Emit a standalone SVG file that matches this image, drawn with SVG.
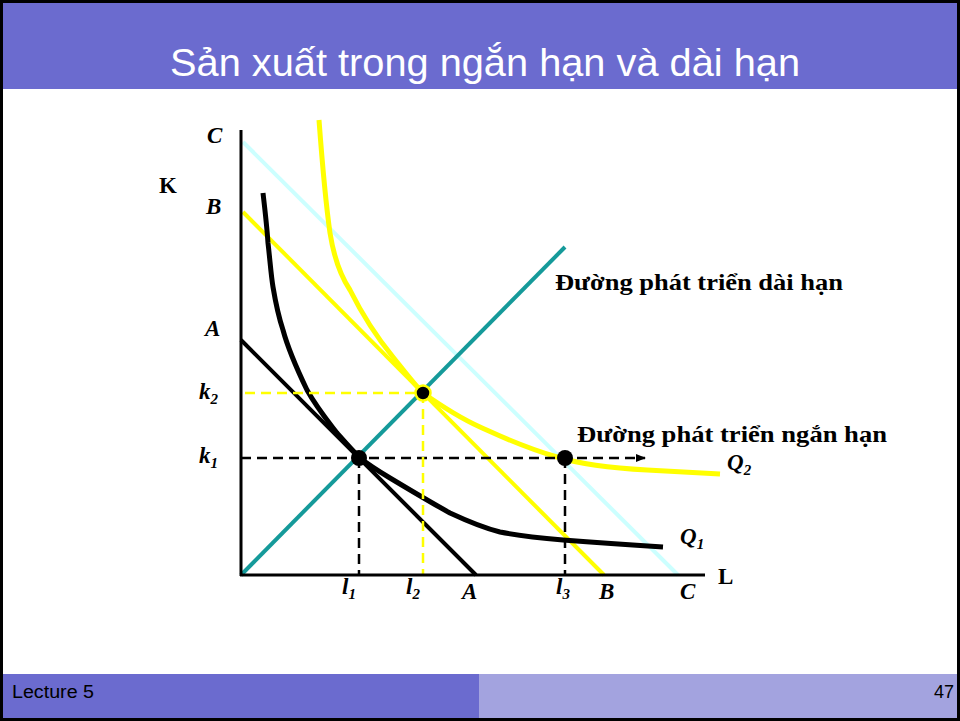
<svg xmlns="http://www.w3.org/2000/svg" width="960" height="721" viewBox="0 0 960 721">
<defs>
<style>
.ax{stroke:#000;stroke-width:3;fill:none}
.lbl{font-family:"Liberation Serif",serif;font-style:italic;font-weight:bold;font-size:23px;fill:#000}
.sub{font-size:15px}
.bl{font-family:"Liberation Serif",serif;font-weight:bold;font-size:23px;fill:#000}
.dash{stroke:#000;stroke-width:2.5;stroke-dasharray:10,6;fill:none}
.ydash{stroke:#FFFF00;stroke-width:2.5;stroke-dasharray:10,6;fill:none}
.ft{font-family:"Liberation Sans",Arial,sans-serif;font-size:18px;fill:#000}
</style>
<marker id="arr" markerWidth="10" markerHeight="8" refX="9" refY="4" orient="auto" markerUnits="userSpaceOnUse">
<path d="M0,0 L10,4 L0,8 Z" fill="#000"/>
</marker>
</defs>
<rect x="1.5" y="1.5" width="957" height="718" fill="#fff" stroke="#000" stroke-width="3"/>
<g id="header">
<rect x="3" y="3" width="954" height="86" fill="#6B6BCF"/>
<text x="170" y="76" textLength="630" lengthAdjust="spacingAndGlyphs" font-family="Liberation Sans, Arial, sans-serif" font-size="39" fill="#fff">Sản xuất trong ngắn hạn và dài hạn</text>
</g>
<g id="footer">
<rect x="3" y="674" width="476" height="44" fill="#6B6BCF"/>
<rect x="479" y="674" width="478" height="44" fill="#A3A3DF"/>
<text class="ft" x="12" y="698" textLength="82" lengthAdjust="spacingAndGlyphs">Lecture 5</text>
<text class="ft" x="954" y="698" text-anchor="end">47</text>
</g>
<g id="lines">
<line x1="243" y1="142" x2="678" y2="575" stroke="#CCFFFF" stroke-width="4"/>
<line x1="243" y1="212" x2="604" y2="575" stroke="#FFFF00" stroke-width="4"/>
<line x1="241" y1="340" x2="476" y2="575" stroke="#000" stroke-width="4"/>
<line x1="241" y1="575" x2="565" y2="247" stroke="#159A9A" stroke-width="4"/>
<path d="M319,120 C322,160 326,205 330,233 C334,258 340,275 350,290 C360,310 375,335 393,357 C405,372 415,385 423,393 C440,405 460,418 480,427 C500,436 520,446 557,457 C580,464 610,468 647,470 C680,472 700,473 720,474" fill="none" stroke="#FFFF00" stroke-width="5"/>
<path d="M263,193 C265,210 267,228 268,243 C270,260 271,275 273,287 C276,305 279,318 283,330 C287,345 295,365 307,390 C317,408 327,420 337,433 C345,442 352,450 360,458 C370,466 380,472 390,478 C410,490 430,502 450,513 C465,520 480,527 500,532 C520,536 540,538 563,540 C600,543 630,545 663,547" fill="none" stroke="#000" stroke-width="5"/>
</g>
<g id="connectors">
<line class="dash" x1="241" y1="458" x2="645" y2="458" marker-end="url(#arr)"/>
<line class="dash" x1="359" y1="458" x2="359" y2="575"/>
<line class="dash" x1="565" y1="458" x2="565" y2="575"/>
<line class="ydash" x1="245" y1="393" x2="422" y2="393"/>
<line class="ydash" x1="423" y1="393" x2="423" y2="575"/>
</g>
<g id="axes">
<line class="ax" x1="241" y1="130" x2="241" y2="576"/>
<line class="ax" x1="240" y1="575" x2="705" y2="575"/>
</g>
<g id="points">
<circle cx="359" cy="458" r="8" fill="#000"/>
<circle cx="423" cy="393" r="7.5" fill="#000" stroke="#FFFF00" stroke-width="2.5"/>
<circle cx="565" cy="458" r="8" fill="#000"/>
</g>
<g id="labels">
<text class="lbl" x="207" y="143">C</text>
<text class="bl" x="159" y="193">K</text>
<text class="lbl" x="206" y="214">B</text>
<text class="lbl" x="205" y="336">A</text>
<text class="lbl" x="199" y="399">k<tspan class="sub" dy="5">2</tspan></text>
<text class="lbl" x="199" y="463">k<tspan class="sub" dy="5">1</tspan></text>
<text class="lbl" x="342" y="594">l<tspan class="sub" dy="5">1</tspan></text>
<text class="lbl" x="406" y="594">l<tspan class="sub" dy="5">2</tspan></text>
<text class="lbl" x="462" y="599">A</text>
<text class="lbl" x="556" y="594">l<tspan class="sub" dy="5">3</tspan></text>
<text class="lbl" x="599" y="599">B</text>
<text class="lbl" x="680" y="599">C</text>
<text class="bl" x="718" y="584">L</text>
<text class="lbl" x="727" y="470">Q<tspan class="sub" dy="5">2</tspan></text>
<text class="lbl" x="680" y="544">Q<tspan class="sub" dy="5">1</tspan></text>
<text class="bl" x="555" y="290" textLength="288" lengthAdjust="spacingAndGlyphs">Đường phát triển dài hạn</text>
<text class="bl" x="577" y="442" textLength="310" lengthAdjust="spacingAndGlyphs">Đường phát triển ngắn hạn</text>
</g>
</svg>
